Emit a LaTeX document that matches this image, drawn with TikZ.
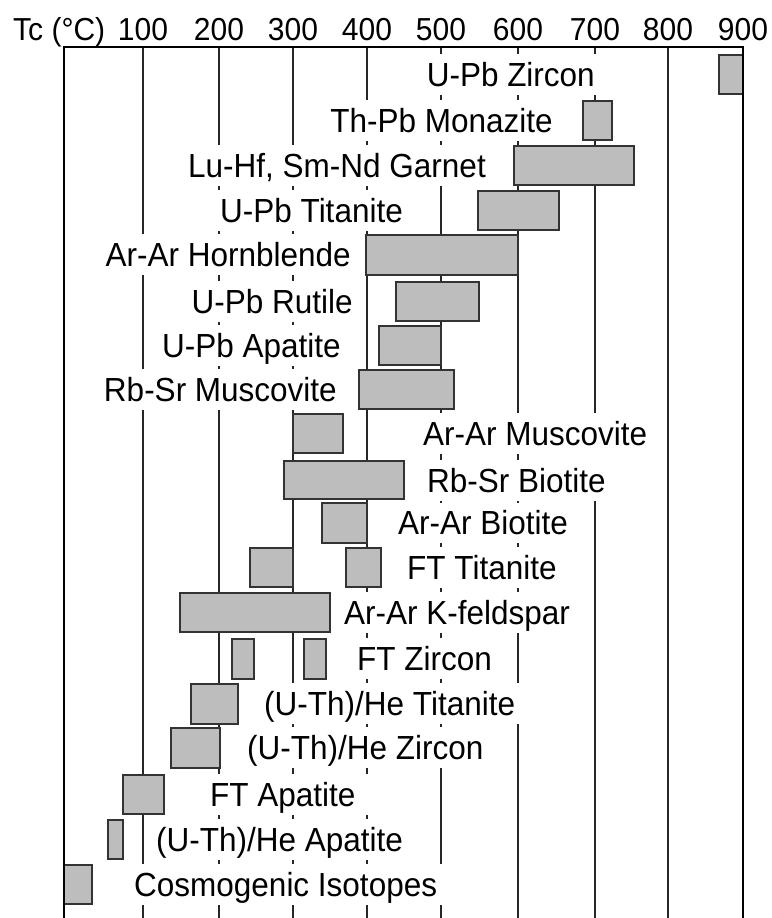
\documentclass[tikz,border=0pt]{standalone}
\usepackage{fontspec}
\setmainfont{Liberation Sans}
\usepackage{graphicx}
\newcommand\lbl[1]{\scalebox{1}[1.06]{#1}}
% a grid line at x = #1, drawn as the segments listed in #2 (gaps behind labels)
\newcommand\gridseg[2]{\foreach \ya/\yb in {#2} \draw[gridline] (#1,\ya) -- (#1,\yb);}
\begin{document}
\begin{tikzpicture}[x=1pt,y=-1pt,
  gridline/.style={line width=1.5pt, draw=black!85},
  bar/.style={fill=black!26, draw=black!80, line width=1.8pt},
  rowlabel/.style={rectangle, inner xsep=7pt, inner ysep=0pt, text height=24pt, text depth=0pt, minimum height=41pt, font=\fontsize{31.5}{36}\selectfont},
  axl/.style={anchor=base, inner sep=0pt, font=\fontsize{30}{34}\selectfont},
  frameline/.style={line width=2pt, draw=black}]
\useasboundingbox (0,0) rectangle (771,918);
% grid lines (interrupted behind the labels)
\gridseg{143}{47/234, 275/369, 410/864, 905/918}
\gridseg{219}{47/145, 186/190, 231/234, 275/281, 322/325, 366/369, 410/774, 815/819, 860/864, 905/918}
\gridseg{293}{47/145, 186/190, 231/234, 275/281, 322/325, 366/369, 410/683, 724/727, 768/774, 815/819, 860/864, 905/918}
\gridseg{367}{47/100, 141/145, 186/190, 231/592, 633/638, 679/683, 724/727, 768/774, 815/819, 860/864, 905/918}
\gridseg{441}{47/54, 95/100, 141/145, 186/413, 454/460, 501/502.5, 543/547, 588/592, 633/638, 679/683, 724/727, 768/864, 905/918}
\gridseg{518}{47/54, 95/100, 141/413, 454/460, 501/502.5, 543/547, 588/592, 633/683, 724/918}
\gridseg{595}{47/54, 95/413, 501/918}
\gridseg{668}{47/918}
% axis labels
\node[axl, anchor=base west] (tc) at (13,40) {\lbl{Tc (°C)}};
\node[axl] (t100) at (143,40) {\lbl{100}};
\node[axl] (t200) at (219,40) {\lbl{200}};
\node[axl] (t300) at (293,40) {\lbl{300}};
\node[axl] (t400) at (367,40) {\lbl{400}};
\node[axl] (t500) at (441,40) {\lbl{500}};
\node[axl] (t600) at (518,40) {\lbl{600}};
\node[axl] (t700) at (595,40) {\lbl{700}};
\node[axl] (t800) at (668,40) {\lbl{800}};
\node[axl] (t900) at (743,40) {\lbl{900}};
% labels
\node[rowlabel, anchor=east] (l1) at (602,74.5) {\lbl{U-Pb Zircon}};
\node[rowlabel, anchor=east] (l2) at (560,120.5) {\lbl{Th-Pb Monazite}};
\node[rowlabel, anchor=east] (l3) at (493,165.5) {\lbl{Lu-Hf, Sm-Nd Garnet}};
\node[rowlabel, anchor=east] (l4) at (410,210.5) {\lbl{U-Pb Titanite}};
\node[rowlabel, anchor=east] (l5) at (358,254.5) {\lbl{Ar-Ar Hornblende}};
\node[rowlabel, anchor=east] (l6) at (360,301.5) {\lbl{U-Pb Rutile}};
\node[rowlabel, anchor=east] (l7) at (348,345.5) {\lbl{U-Pb Apatite}};
\node[rowlabel, anchor=east] (l8) at (344,389.5) {\lbl{Rb-Sr Muscovite}};
\node[rowlabel, anchor=west] (l9) at (416,433.5) {\lbl{Ar-Ar Muscovite}};
\node[rowlabel, anchor=west] (l10) at (420,480.5) {\lbl{Rb-Sr Biotite}};
\node[rowlabel, anchor=west] (l11) at (391,522.5) {\lbl{Ar-Ar Biotite}};
\node[rowlabel, anchor=west] (l12) at (400,567.5) {\lbl{FT Titanite}};
\node[rowlabel, anchor=west] (l13) at (337,612.5) {\lbl{Ar-Ar K-feldspar}};
\node[rowlabel, anchor=west] (l14) at (350,658.5) {\lbl{FT Zircon}};
\node[rowlabel, anchor=west] (l15) at (257,703.5) {\lbl{(U-Th)/He Titanite}};
\node[rowlabel, anchor=west] (l16) at (240,747.5) {\lbl{(U-Th)/He Zircon}};
\node[rowlabel, anchor=west] (l17) at (203,794.5) {\lbl{FT Apatite}};
\node[rowlabel, anchor=west] (l18) at (149,839.5) {\lbl{(U-Th)/He Apatite}};
\node[rowlabel, anchor=west] (l19) at (127,884.5) {\lbl{Cosmogenic Isotopes}};
% bars
\draw[bar] (719,55) rectangle (743,94);
\draw[bar] (583,101) rectangle (612,140);
\draw[bar] (514,146) rectangle (634,185);
\draw[bar] (478,191) rectangle (559,230);
\draw[bar] (366,235) rectangle (518,275);
\draw[bar] (396,282) rectangle (479,321);
\draw[bar] (379,326) rectangle (441,365);
\draw[bar] (359,370) rectangle (454,409);
\draw[bar] (293,414) rectangle (343,453);
\draw[bar] (284,461) rectangle (404,499);
\draw[bar] (322,503) rectangle (367,543);
\draw[bar] (250,548) rectangle (293,587);
\draw[bar] (346,548) rectangle (381,587);
\draw[bar] (180,593) rectangle (330,632);
\draw[bar] (232,639) rectangle (254,679);
\draw[bar] (304,639) rectangle (326,679);
\draw[bar] (191,684) rectangle (238,724);
\draw[bar] (171,728) rectangle (220,768);
\draw[bar] (123,775) rectangle (164,814);
\draw[bar] (108,820) rectangle (123,859);
\draw[bar] (64,865) rectangle (92,904);
% frame
\draw[frameline] (64,918) -- (64,47) -- (743,47) -- (743,918);
\end{tikzpicture}
\end{document}
